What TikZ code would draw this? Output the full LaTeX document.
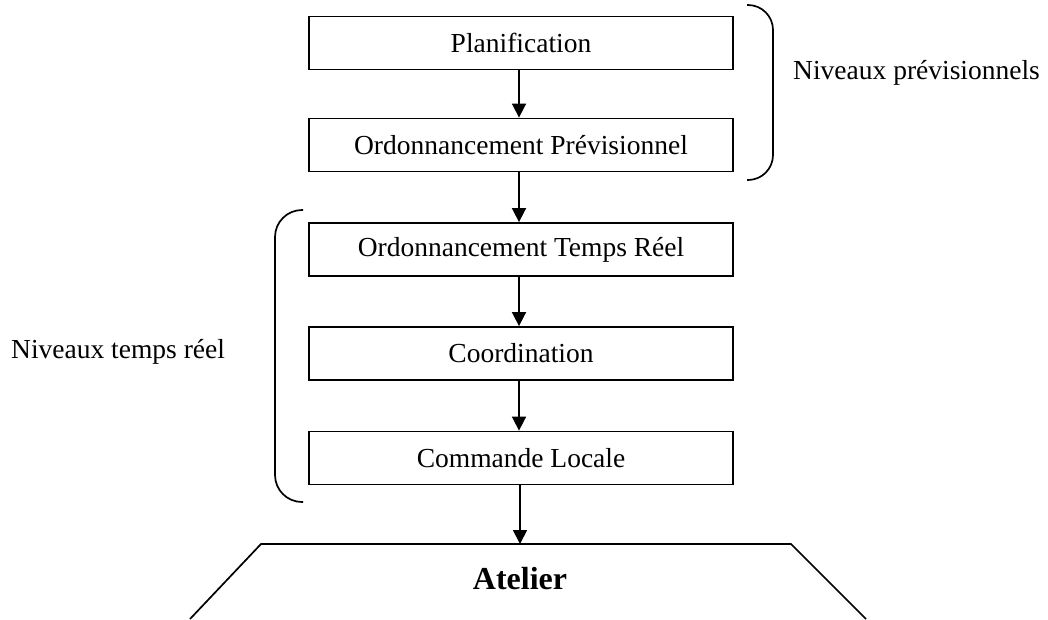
\documentclass[tikz,border=0pt]{standalone}
\usepackage{fontspec}
\setmainfont{Liberation Serif}
\usetikzlibrary{arrows.meta}
\begin{document}
\begin{tikzpicture}[x=1pt,y=-1pt,
  every node/.style={font=\fontsize{27.5pt}{33pt}\selectfont, inner sep=0pt},
  levelbox/.style={draw, line width=1.8pt, minimum width=424pt, minimum height=53pt},
  flow/.style={line width=1.7pt, -{Triangle[length=14pt,width=14pt]}},
  bracket/.style={line width=1.7pt},
  plain/.style={line width=1.7pt}]
\useasboundingbox (0,0) rectangle (1048,619);
\node[levelbox] (plan) at (521,43) {Planification};
\node[levelbox] (op) at (521,145) {Ordonnancement Prévisionnel};
\node[levelbox] (otr) at (521,249.5) {Ordonnancement Temps Réel};
\node[levelbox] (coord) at (521,353.5) {Coordination};
\node[levelbox] (cl) at (521,458) {Commande Locale};
\coordinate (bl) at (190,619);
\coordinate (tl) at (261,544);
\coordinate (tr) at (791,544);
\coordinate (br) at (866,619);
\coordinate (atop) at (520,544);
\node[font=\fontsize{32pt}{38pt}\selectfont\bfseries] (atelier) at (520,579) {Atelier};
\draw[flow] ([xshift=-2pt]plan.south) -- ([xshift=-2pt]op.north);
\draw[flow] ([xshift=-2pt]op.south) -- ([xshift=-2pt]otr.north);
\draw[flow] ([xshift=-2pt]otr.south) -- ([xshift=-2pt]coord.north);
\draw[flow] ([xshift=-2pt]coord.south) -- ([xshift=-2pt]cl.north);
\draw[flow] ([xshift=-1pt]cl.south) -- (atop);
\draw[plain] (bl) -- (tl) -- (tr) -- (br);
\draw[bracket, rounded corners=25pt] (747,5) -- (773,5) -- (773,180) -- (747,180);
\draw[bracket, rounded corners=27pt] (303,210) -- (275,210) -- (275,502) -- (303,502);
\node[anchor=west] (prev) at (793,73) {Niveaux prévisionnels};
\node[anchor=west] (tr-label) at (11,352) {Niveaux temps réel};
\end{tikzpicture}
\end{document}
